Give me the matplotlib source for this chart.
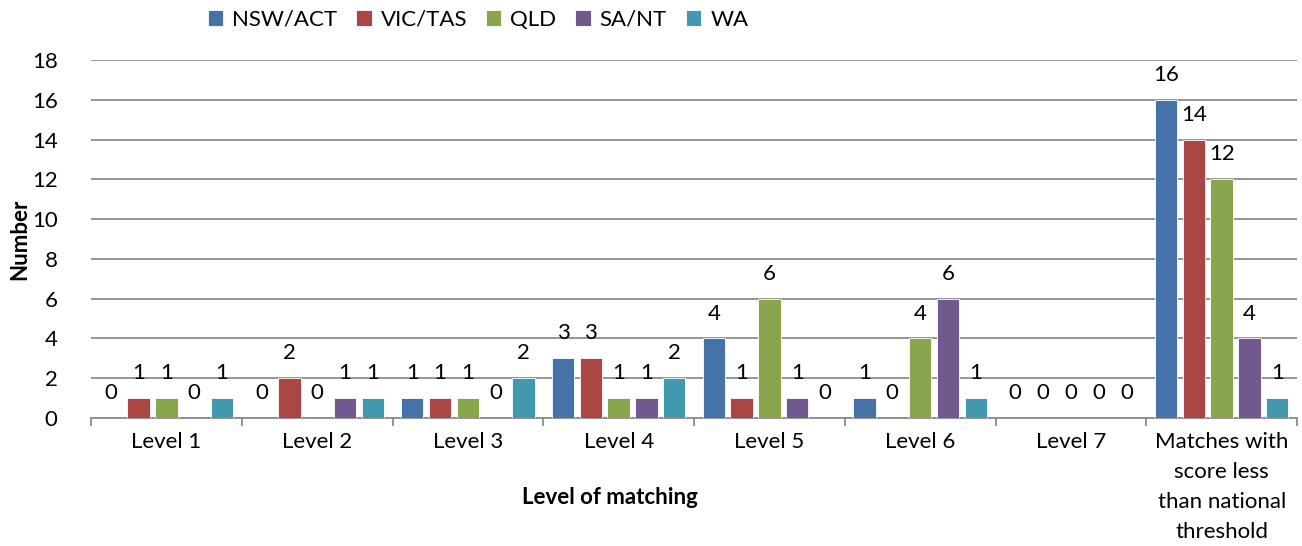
import matplotlib.pyplot as plt
import numpy as np

plt.rcParams['font.family'] = ['Lato', 'DejaVu Sans']

categories = ["Level 1", "Level 2", "Level 3", "Level 4", "Level 5", "Level 6",
              "Level 7", "Matches with\nscore less\nthan national\nthreshold"]
series = ["NSW/ACT", "VIC/TAS", "QLD", "SA/NT", "WA"]
values = [
    [0, 0, 1, 3, 4, 1, 0, 16],   # NSW/ACT
    [1, 2, 1, 3, 1, 0, 0, 14],   # VIC/TAS
    [1, 0, 1, 1, 6, 4, 0, 12],   # QLD
    [0, 1, 0, 1, 1, 6, 0, 4],    # SA/NT
    [1, 1, 2, 2, 0, 1, 0, 1],    # WA
]
colors = ["#4573A7", "#AA4644", "#89A54E", "#71588F", "#4298AF"]

W, H = 1302, 546
fig = plt.figure(figsize=(W / 100, H / 100), dpi=100)
ax = fig.add_axes([91 / W, (H - 418) / H, (1297 - 91) / W, (418 - 60) / H])

fs = 16
x = np.arange(len(categories))
pitch = 0.1845
width = 0.149
for i, (name, vals) in enumerate(zip(series, values)):
    pos = x + (i - 2) * pitch
    ax.bar(pos, vals, width, color=colors[i], label=name,
           edgecolor="white", linewidth=0.6, zorder=3)
    for p, v in zip(pos, vals):
        ax.text(p, v + 0.75, str(v), ha="center", va="bottom", fontsize=fs, color="black")

ax.set_xlim(-0.5, len(categories) - 0.5)
ax.set_ylim(0, 18)
ax.set_yticks(range(0, 19, 2))
ax.yaxis.grid(True, color="#8c8c8c", linewidth=1.3, zorder=0)
ax.set_axisbelow(True)

ax.set_xticks(x)
ax.set_xticklabels(categories, fontsize=fs, linespacing=1.62)
ax.set_xticks(np.arange(len(categories) + 1) - 0.5, minor=True)
ax.tick_params(axis="x", which="major", length=0, pad=10)
ax.tick_params(axis="x", which="minor", length=6, width=1.3, color="#8c8c8c")
ax.tick_params(axis="y", length=0, labelsize=fs, pad=24)

for side in ["top", "right", "left"]:
    ax.spines[side].set_visible(False)
ax.spines["bottom"].set_color("#8c8c8c")
ax.spines["bottom"].set_linewidth(1.3)

fig.text(20 / W, 1 - 239 / H, "Number", ha="center", va="center", rotation=90,
         fontsize=fs, fontweight="bold")
fig.text(610 / W, 1 - 497 / H, "Level of matching", ha="center", va="center",
         fontsize=fs, fontweight="bold")

fig.legend(loc="center", bbox_to_anchor=(478 / W, 1 - 20 / H), ncol=5, frameon=False,
           fontsize=fs, handlelength=0.7, handleheight=0.7, handletextpad=0.4,
           columnspacing=0.85)

fig.savefig("out.png", dpi=100)
